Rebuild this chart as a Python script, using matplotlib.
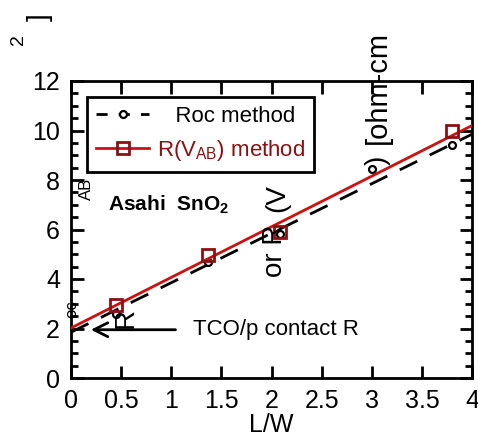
import matplotlib
matplotlib.use("Agg")
import matplotlib.pyplot as plt
from matplotlib.lines import Line2D

plt.rcParams['font.family'] = ['Liberation Sans', 'DejaVu Sans']

# data
lw_x = [0.45, 1.37, 2.08, 3.0, 3.8]
roc_y = [2.6, 4.7, 5.8, 8.45, 9.4]
rvab_x = [0.45, 1.37, 2.08, 3.8]
rvab_y = [2.95, 4.95, 5.9, 10.0]
roc_fit_x = [0.0, 4.0]
roc_fit_y = [1.85, 9.85]
rvab_fit_x = [0.0, 4.0]
rvab_fit_y = [2.02, 10.2]
xticks = [0, 0.5, 1, 1.5, 2, 2.5, 3, 3.5, 4]
xtick_labels = ["0", "0.5", "1", "1.5", "2", "2.5", "3", "3.5", "4"]
yticks = [0, 2, 4, 6, 8, 10, 12]

W, H = 478, 437
RED = "#cc1111"
DRED = "#8b1010"

fig = plt.figure(figsize=(W/100, H/100), dpi=100)
ax = fig.add_axes([71/W, 1-378/H, 401/W, 297/H])

ax.plot(roc_fit_x, roc_fit_y, color="black", lw=2, dashes=(7, 5), zorder=3)
ax.plot(lw_x, roc_y, ls="none", marker="o", ms=5, mfc="white", mec="black", mew=1.6, zorder=4)
ax.plot(rvab_fit_x, rvab_fit_y, color=RED, lw=2, zorder=5)
ax.plot(rvab_x, rvab_y, ls="none", marker="s", ms=9, mfc="none", mec=DRED, mew=2, zorder=6)

ax.set_xlim(0, 4); ax.set_ylim(0, 12)
ax.set_xticks(xticks); ax.set_xticklabels(xtick_labels)
ax.set_yticks(yticks)
ax.set_yticks([y/2 for y in range(25)], minor=True)
for s in ax.spines.values():
    s.set_linewidth(2)
ax.tick_params(which="both", direction="in", top=True, right=True, width=2, labelsize=18, pad=8)
ax.tick_params(which="major", length=9)
ax.tick_params(which="minor", length=5)
ax.tick_params(axis="x", which="minor", top=False, bottom=False)
ax.set_xlabel("L/W", fontsize=18, labelpad=0)

h1 = Line2D([], [], color="black", lw=2, dashes=(4, 4), marker="o", ms=5, mfc="white", mec="black", mew=1.6)
h2 = Line2D([], [], color=RED, lw=2, marker="s", ms=8, mfc="none", mec=DRED, mew=2)
leg = ax.legend([h1, h2], ["   Roc method", r"R(V$_{\mathregular{AB}}$) method"], loc="upper left",
                bbox_to_anchor=((87-71)/401, (378-97)/297), fontsize=16, frameon=True,
                fancybox=False, handlelength=2.4, handletextpad=0.35, borderpad=0.4,
                labelspacing=0.5, borderaxespad=0)
leg.get_frame().set_edgecolor("black"); leg.get_frame().set_linewidth(2)
leg.get_frame().set_alpha(1)
leg.get_texts()[1].set_color(DRED)

ax.text(0.37, 7.0, r"Asahi  SnO$_\mathregular{2}$", fontsize=15, fontweight="bold", va="center")
ax.annotate("", xy=(0.17, 1.95), xytext=(1.07, 1.95),
            arrowprops=dict(arrowstyle="->", lw=2, color="black", mutation_scale=25))
ax.text(1.22, 1.95, "TCO/p contact R", fontsize=16, va="center")

# scattered pieces of the y-axis label
def ftext(x, y, s, size):
    fig.text(x/W, 1-y/H, s, fontsize=size, rotation=90, ha="center", va="center")
ftext(378, 88, "[ohm-cm", 21)
ftext(378, 160, ")", 20)
ftext(277, 198, "(V", 20)
ftext(275, 251, "or R", 20)
ftext(126, 318, "R", 20)
ftext(86, 189, "AB", 12)
ftext(72, 309, "oc", 12)
ftext(40, 17, "]", 20)
ftext(18, 40, "2", 14)

fig.savefig("out.png", dpi=100)
